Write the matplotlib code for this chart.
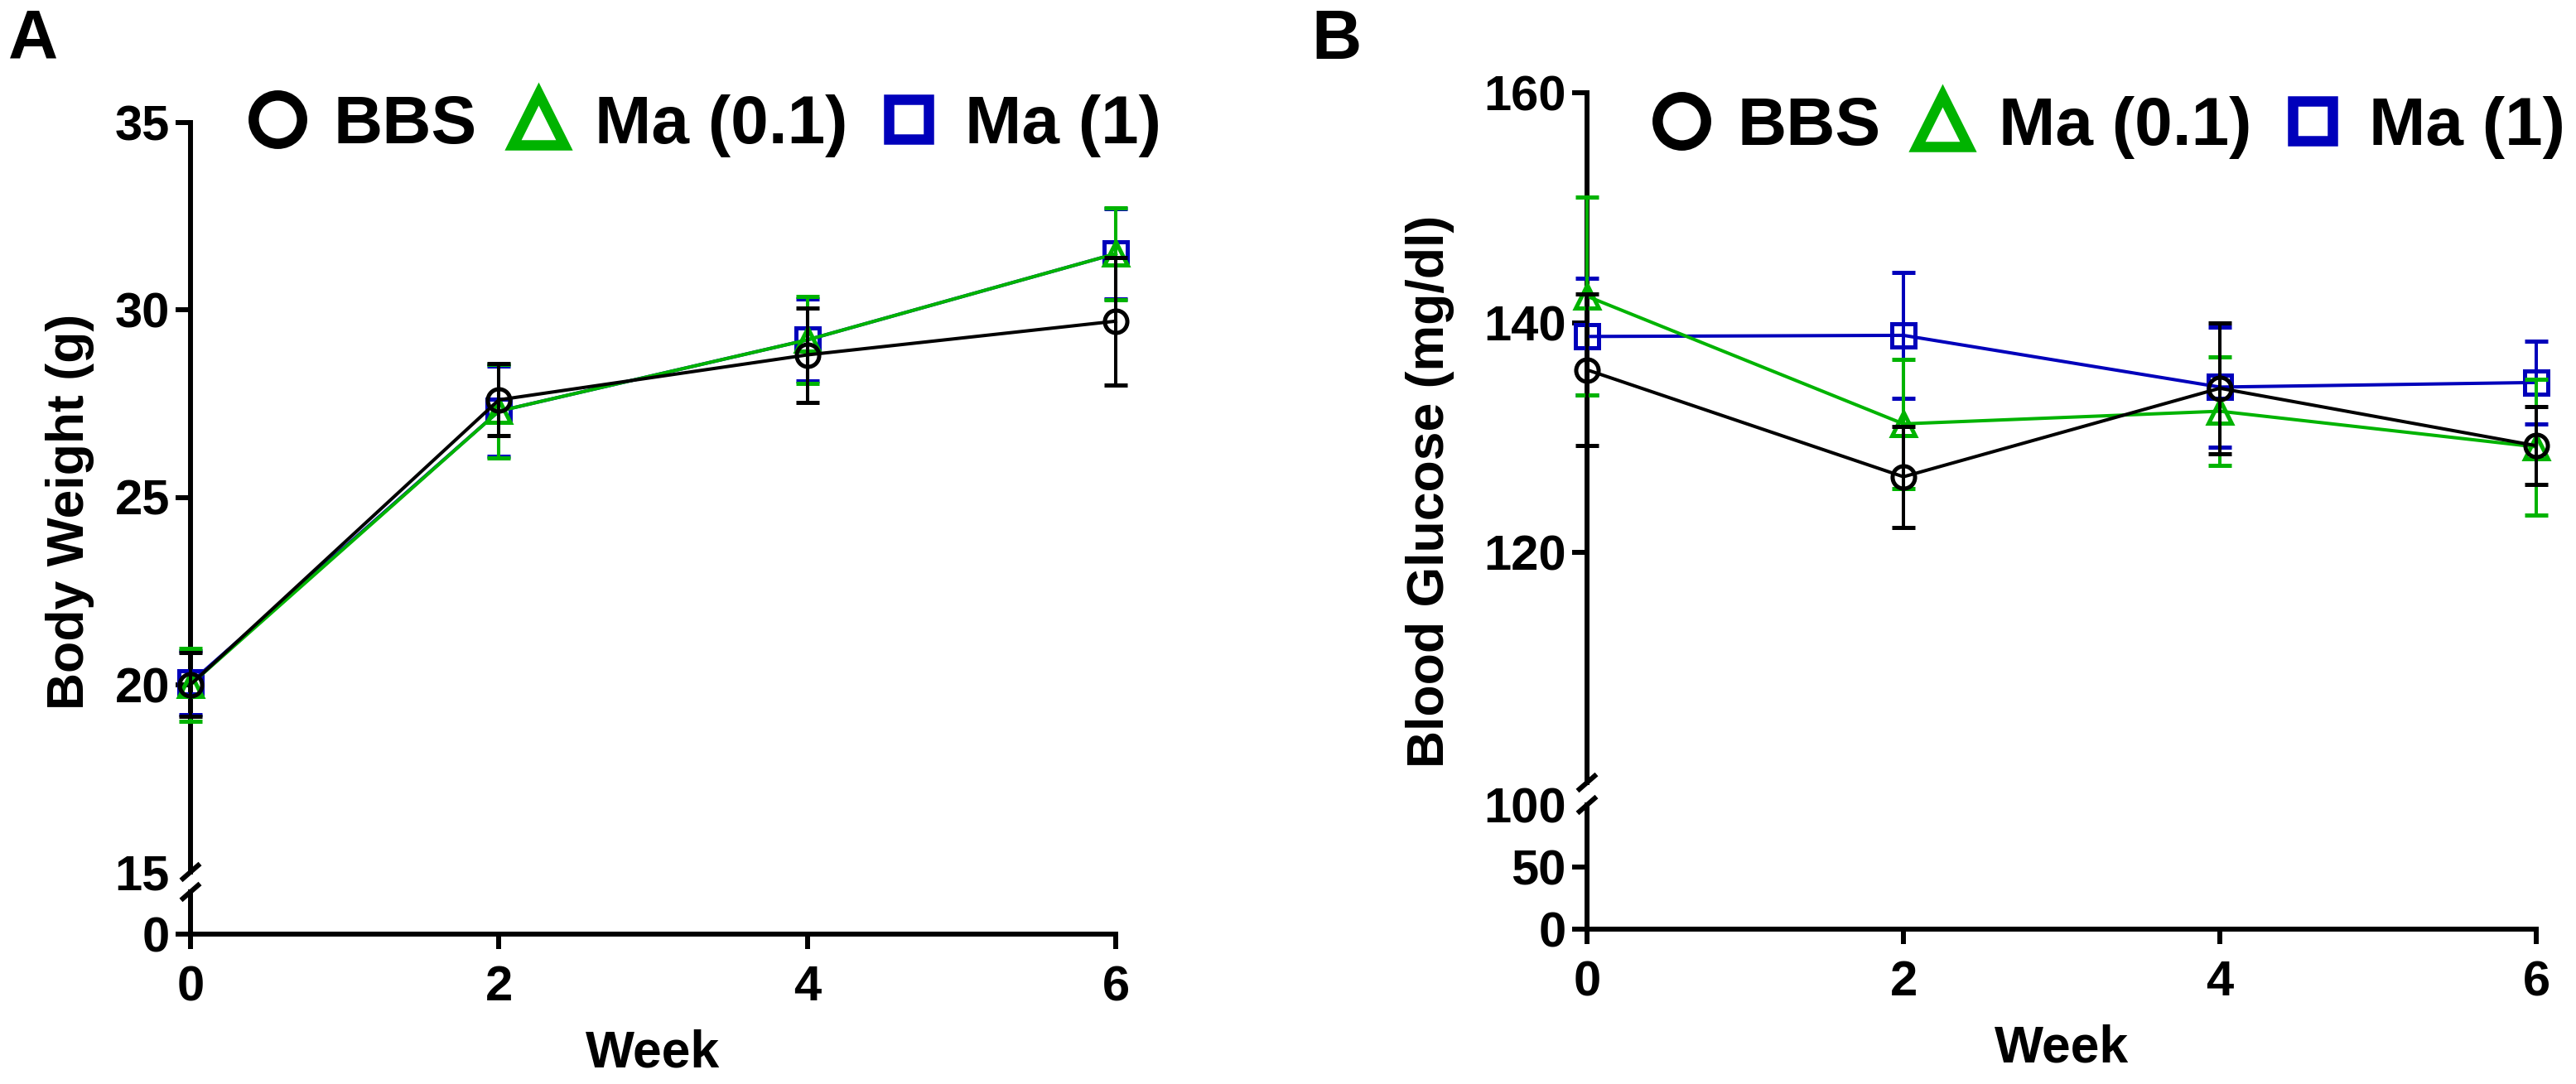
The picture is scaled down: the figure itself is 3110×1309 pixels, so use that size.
import matplotlib
matplotlib.use("Agg")
import matplotlib.pyplot as plt
from matplotlib.lines import Line2D

plt.rcParams['font.family'] = ['Liberation Sans', 'DejaVu Sans']
plt.rcParams['font.weight'] = 'bold'

# ---- data ----
weeks = [0, 2, 4, 6]
groups = ["BBS", "Ma (0.1)", "Ma (1)"]

# A: body weight (g), mean and SEM
bw_bbs = [20.0, 27.6, 28.8, 29.7]
bw_bbs_err = [0.85, 0.96, 1.26, 1.70]
bw_ma01 = [20.0, 27.3, 29.2, 31.5]
bw_ma01_err = [0.97, 1.24, 1.17, 1.22]
bw_ma1 = [20.05, 27.3, 29.2, 31.5]
bw_ma1_err = [0.85, 1.2, 1.1, 1.2]

# B: blood glucose (mg/dl), mean and SEM
bg_bbs = [135.9, 126.6, 134.3, 129.3]
bg_bbs_err = [6.6, 4.4, 5.7, 3.4]
bg_ma01 = [142.3, 131.2, 132.3, 129.2]
bg_ma01_err = [8.6, 5.6, 4.7, 5.9]
bg_ma1 = [138.8, 138.9, 134.4, 134.8]
bg_ma1_err = [5.1, 5.5, 5.2, 3.6]

colors = ["black", "#00B300", "#0000BB"]
markers = ["o", "^", "s"]

W, H = 3110, 1309
fig = plt.figure(figsize=(W / 100, H / 100), dpi=100)


def rect(l, t, r, b):
    return [l / W, 1 - b / H, (r - l) / W, (b - t) / H]


SPW = 4.3  # spine / tick width (pt)


def style(ax):
    for s in ("top", "right"):
        ax.spines[s].set_visible(False)
    for s in ("left", "bottom"):
        ax.spines[s].set_linewidth(SPW)
    ax.tick_params(direction="out", length=13, width=SPW, labelsize=43)
    ax.tick_params(axis="y", pad=5)
    ax.tick_params(axis="x", pad=14)
    ax.set_facecolor("none")


def brk(x, y):
    # short diagonal mark on the y axis at pixel (x, y)
    fig.add_artist(Line2D([(x - 11.5) / W, (x + 11.5) / W],
                          [1 - (y + 10) / H, 1 - (y - 10) / H],
                          color="black", lw=SPW, transform=fig.transFigure,
                          solid_capstyle="butt"))


def panel(box_top, box_bot, top_lim, top_ticks, bot_lim, bot_ticks,
          series, ylabel, ylab_xy, letter, letter_xy, leg_xy,
          hide_top_first, hide_bot_last):
    ax = fig.add_axes(rect(*box_top))
    axb = fig.add_axes(rect(*box_bot))
    for a in (ax, axb):
        style(a)
        a.set_xlim(0, 6)
    ax.spines["bottom"].set_visible(False)
    ax.tick_params(axis="x", bottom=False, labelbottom=False)
    ax.set_ylim(*top_lim)
    ax.set_yticks(top_ticks)
    if hide_top_first:
        ax.yaxis.get_major_ticks()[0].tick1line.set_visible(False)
    axb.set_ylim(*bot_lim)
    axb.set_yticks(bot_ticks)
    if hide_bot_last:
        axb.yaxis.get_major_ticks()[-1].tick1line.set_visible(False)
    axb.set_xticks(weeks)
    axb.set_xlabel("Week", fontsize=45, fontweight="bold", labelpad=16)

    # draw order: blue, green, black
    for i in (2, 1, 0):
        y, e = series[i]
        ax.errorbar(weeks, y, yerr=e, color=colors[i], lw=2.9,
                    elinewidth=2.9, capsize=10, capthick=2.9,
                    marker=markers[i], ms=20 if i else 19.5, mfc="none",
                    mec=colors[i], mew=3.6, clip_on=False, zorder=3 + (2 - i))

    # axis breaks
    x0 = box_top[0]
    brk(x0, box_top[3])
    brk(x0, box_bot[1])

    fig.text(ylab_xy[0] / W, 1 - ylab_xy[1] / H, ylabel, rotation=90,
             ha="center", va="center", fontsize=45, fontweight="bold")
    fig.text(letter_xy[0] / W, 1 - letter_xy[1] / H, letter,
             ha="left", va="top", fontsize=60, fontweight="bold")

    handles = [Line2D([], [], ls="none", marker=markers[i], mfc="none",
                      mec=colors[i], mew=9,
                      ms={"o": 42, "^": 44, "s": 35}[markers[i]])
               for i in range(3)]
    fig.legend(handles, groups, loc="center left",
               bbox_to_anchor=(leg_xy[0] / W, 1 - leg_xy[1] / H),
               ncol=3, frameon=False, borderpad=0, borderaxespad=0,
               handlelength=0.8, handletextpad=0.43, columnspacing=0.5,
               prop={"size": 59, "weight": "bold"})
    return ax, axb


panel((230, 148, 1347, 1053), (230, 1077, 1347, 1128),
      (15, 35), [15, 20, 25, 30, 35], (0, 1), [0],
      [(bw_bbs, bw_bbs_err), (bw_ma01, bw_ma01_err), (bw_ma1, bw_ma1_err)],
      "Body Weight (g)", (85, 618), "A", (10, 10), (302, 152),
      True, False)

panel((1916, 112, 3062, 945), (1916, 972, 3062, 1122),
      (100, 160), [120, 140, 160], (0, 100), [0, 50, 100],
      [(bg_bbs, bg_bbs_err), (bg_ma01, bg_ma01_err), (bg_ma1, bg_ma1_err)],
      "Blood Glucose (mg/dl)", (1727, 593), "B", (1583, 10), (1997, 154),
      False, True)

fig.savefig("out.png", dpi=100)
